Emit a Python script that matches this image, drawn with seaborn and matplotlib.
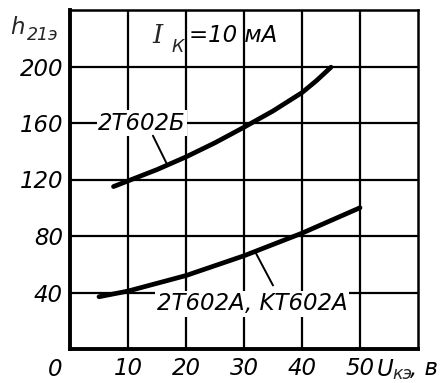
import matplotlib
matplotlib.use("Agg")
import matplotlib.pyplot as plt
import seaborn as sns
import pandas as pd

# data
x_b = [7.5, 10, 15, 20, 25, 30, 35, 40, 42.5, 45]
y_b = [115, 119, 127, 136, 146, 157, 168.5, 181.5, 190, 199.5]
x_a = [5, 10, 20, 30, 40, 50]
y_a = [37, 41, 52, 66, 82, 100]
x_ticks = [10, 20, 30, 40, 50]
y_ticks = [40, 80, 120, 160, 200]

sns.set_style("white")
plt.rcParams['font.family'] = ['DejaVu Sans']
FS = 16.5
FONT = dict(fontsize=FS, fontstyle='italic', color='black')

fig = plt.figure(figsize=(4.4, 3.83), dpi=100)
ax = fig.add_axes([70/440, 1-349/383, 348/440, 339/383])

df_b = pd.DataFrame({'x': x_b, 'y': y_b})
df_a = pd.DataFrame({'x': x_a, 'y': y_a})
sns.lineplot(data=df_b, x='x', y='y', ax=ax, color='black', linewidth=3.4, zorder=5)
sns.lineplot(data=df_a, x='x', y='y', ax=ax, color='black', linewidth=3.4, zorder=5)
for ln in ax.lines:
    ln.set_solid_capstyle('round')
    ln.set_solid_joinstyle('round')

ax.set_xlim(0, 60)
ax.set_ylim(0, 240)
ax.set_xticks(x_ticks)
ax.set_yticks(y_ticks)
ax.grid(True, color='black', linewidth=1.6)
ax.set_axisbelow(True)
for s in ax.spines.values():
    s.set_visible(True)
    s.set_color('black')
    s.set_linewidth(1.8)
ax.spines['left'].set_linewidth(2.8)
ax.spines['bottom'].set_linewidth(2.8)
ax.tick_params(axis='x', length=0, pad=6)
ax.tick_params(axis='y', length=0, pad=5)
ax.set_xticklabels([str(v) for v in x_ticks], **FONT)
ax.set_yticklabels([str(v) for v in y_ticks], **FONT)
ax.set_xlabel('')
ax.set_ylabel('')

# origin label
fig.text(55/440, 1-369/383, '0', ha='center', va='center', **FONT)
# y axis label h21э
fig.text(10/440, 1-28/383, 'h', ha='left', va='center', fontsize=FS, fontstyle='italic')
fig.text(27/440, 1-35/383, '21э', ha='left', va='center', fontsize=FS-4, fontstyle='italic')
# x axis label Uкэ, в
fig.text(377/440, 1-369/383, 'U', ha='left', va='center', **FONT)
fig.text(392/440, 1-374/383, 'кэ', ha='left', va='center', fontsize=FS-4, fontstyle='italic')
fig.text(410/440, 1-369/383, ', в', ha='left', va='center', **FONT)

# Ik = 10 mA
ax.text(14.2, 222, 'I', ha='left', va='center', fontsize=FS+2, family='DejaVu Serif', fontstyle='italic')
ax.text(17.5, 214, 'К', ha='left', va='center', fontsize=FS-4, fontstyle='italic')
ax.text(20.6, 222, '=10 мА', ha='left', va='center', **FONT)

# curve labels
bbox = dict(facecolor='white', edgecolor='none', pad=1.0)
ax.text(12.4, 160, '2T602Б', ha='center', va='center', bbox=bbox, zorder=6, **FONT)
ax.plot([14.3, 16.7], [151, 131], color='black', linewidth=1.4, zorder=6)
ax.text(31.4, 32, '2T602A, KT602A', ha='center', va='center', bbox=bbox, zorder=6, **FONT)
ax.plot([31.9, 35.0], [69, 45], color='black', linewidth=1.4, zorder=6)

fig.savefig('out.png', dpi=100)
